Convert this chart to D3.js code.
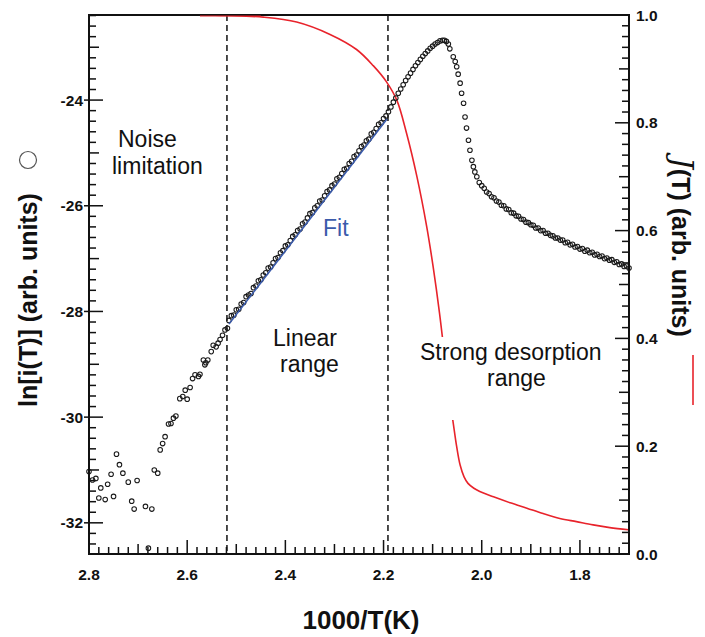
<!DOCTYPE html>
<html><head><meta charset="utf-8">
<script src="https://cdn.jsdelivr.net/npm/d3@7"></script>
<style>body{margin:0;background:#fff}svg{display:block}</style>
</head><body><svg id="c" width="705" height="637"></svg>
<script>
// ---------- data ----------
const xTickValues = [2.8, 2.6, 2.4, 2.2, 2.0, 1.8];
const xTickLabels = ["2.8", "2.6", "2.4", "2.2", "2.0", "1.8"];
const leftTickValues = [-32, -30, -28, -26, -24];
const leftTickLabels = ["-32", "-30", "-28", "-26", "-24"];
const rightTickValues = [0, 0.2, 0.4, 0.6, 0.8, 1.0];
const rightTickLabels = ["0.0", "0.2", "0.4", "0.6", "0.8", "1.0"];
const regionBounds = [2.519, 2.191];

// ln[i(T)] scatter, [1000/T, ln i]
const noisePts = [[2.800,-31.03],[2.793,-31.19],[2.786,-31.16],[2.776,-31.34],[2.780,-31.53],[2.767,-31.56],[2.762,-31.27],
 [2.755,-31.08],[2.750,-31.50],[2.744,-30.70],[2.738,-30.90],[2.731,-31.06],[2.720,-31.23],[2.713,-31.59],[2.708,-31.74],
 [2.702,-31.20],[2.685,-31.69],[2.672,-31.74],[2.679,-32.48],[2.667,-31.00],[2.660,-31.06],[2.655,-30.62],[2.650,-30.50],
 [2.645,-30.37],[2.638,-30.13],[2.633,-30.12],[2.628,-30.02],[2.623,-29.98],[2.615,-29.65],[2.609,-29.61],[2.600,-29.66],
 [2.604,-29.49],[2.594,-29.44],[2.589,-29.27],[2.584,-29.20],[2.577,-29.23],[2.574,-29.19],[2.567,-28.92],[2.562,-28.97],
 [2.558,-28.92],[2.564,-29.01],[2.551,-28.76],[2.547,-28.64],[2.541,-28.67],[2.537,-28.60],[2.533,-28.53],[2.528,-28.45],
 [2.523,-28.35],[2.518,-28.32]];
const linearPts = [[2.515,-28.17],[2.510,-28.08],[2.505,-28.07],[2.500,-27.97],[2.495,-27.96],[2.490,-27.86],[2.485,-27.83],
 [2.480,-27.72],[2.475,-27.69],[2.470,-27.66],[2.465,-27.55],[2.460,-27.52],[2.455,-27.42],[2.450,-27.40],[2.445,-27.31],
 [2.440,-27.27],[2.435,-27.18],[2.430,-27.16],[2.425,-27.08],[2.420,-27.00],[2.415,-26.98],[2.410,-26.89],[2.405,-26.85],
 [2.400,-26.76],[2.395,-26.74],[2.390,-26.66],[2.385,-26.58],[2.380,-26.55],[2.375,-26.47],[2.370,-26.44],[2.365,-26.34],
 [2.360,-26.31],[2.355,-26.23],[2.350,-26.15],[2.345,-26.13],[2.340,-26.04],[2.335,-26.00],[2.330,-25.91],[2.325,-25.89],
 [2.320,-25.81],[2.315,-25.73],[2.310,-25.70],[2.305,-25.62],[2.300,-25.59],[2.295,-25.49],[2.290,-25.46],[2.285,-25.39],
 [2.280,-25.31],[2.275,-25.29],[2.270,-25.20],[2.265,-25.16],[2.260,-25.07],[2.255,-25.04],[2.250,-24.96],[2.245,-24.88],
 [2.240,-24.85],[2.235,-24.77],[2.230,-24.74],[2.225,-24.64],[2.220,-24.61],[2.215,-24.54],[2.210,-24.46],[2.205,-24.43],
 [2.200,-24.35],[2.195,-24.30]];
const peakPts = [[2.190,-24.22],[2.185,-24.13],[2.180,-24.04],[2.175,-23.96],[2.170,-23.87],[2.165,-23.79],[2.160,-23.71],
 [2.155,-23.63],[2.150,-23.56],[2.145,-23.49],[2.140,-23.42],[2.135,-23.35],[2.130,-23.29],[2.125,-23.23],[2.120,-23.17],
 [2.115,-23.12],[2.110,-23.07],[2.105,-23.02],[2.100,-22.98],[2.095,-22.94],[2.090,-22.91],[2.085,-22.88],[2.080,-22.87],
 [2.076,-22.87],[2.072,-22.89],[2.068,-22.94],[2.065,-23.03],[2.058,-23.18],[2.054,-23.27],[2.051,-23.37],[2.048,-23.51],
 [2.044,-23.68],[2.041,-23.87],[2.037,-24.06],[2.034,-24.32],[2.031,-24.53],[2.027,-24.76],[2.024,-24.95],[2.020,-25.14],
 [2.017,-25.26],[2.014,-25.36],[2.010,-25.45],[2.005,-25.56]];
const tailPts = [[2.000,-25.62],[1.995,-25.67],[1.990,-25.74],[1.985,-25.77],[1.980,-25.83],[1.975,-25.85],[1.970,-25.91],
 [1.965,-25.93],[1.960,-25.99],[1.955,-26.00],[1.950,-26.06],[1.945,-26.07],[1.940,-26.13],[1.935,-26.14],[1.930,-26.19],
 [1.925,-26.20],[1.920,-26.25],[1.915,-26.26],[1.910,-26.31],[1.905,-26.32],[1.900,-26.36],[1.895,-26.37],[1.890,-26.42],
 [1.885,-26.42],[1.880,-26.47],[1.875,-26.47],[1.870,-26.52],[1.865,-26.52],[1.860,-26.56],[1.855,-26.57],[1.850,-26.61],
 [1.845,-26.61],[1.840,-26.65],[1.835,-26.65],[1.830,-26.70],[1.825,-26.69],[1.820,-26.74],[1.815,-26.73],[1.810,-26.78],
 [1.805,-26.77],[1.800,-26.82],[1.795,-26.81],[1.790,-26.86],[1.785,-26.84],[1.780,-26.89],[1.775,-26.88],[1.770,-26.93],
 [1.765,-26.92],[1.760,-26.96],[1.755,-26.95],[1.750,-27.00],[1.745,-26.99],[1.740,-27.03],[1.735,-27.02],[1.730,-27.07],
 [1.725,-27.06],[1.720,-27.11],[1.715,-27.10],[1.710,-27.15],[1.705,-27.14],[1.700,-27.18]];
// linear fit
const fitInvT = [2.515, 2.193];
const fitLnI = [-28.24, -24.36];
// J(T) curve, right axis
const jInvT = [2.574,2.52,2.445,2.377,2.309,2.255,2.221,2.194,2.173,2.153,2.132,2.112,2.099,2.086,2.076,2.066,2.059,2.051,
 2.044,2.036,2.028,2.016,2.004,1.976,1.942,1.908,1.875,1.841,1.807,1.773,1.739,1.701];
const jVal = [1.000,0.999,0.996,0.987,0.964,0.936,0.906,0.876,0.842,0.780,0.700,0.607,0.533,0.447,0.370,0.290,0.249,0.199,
 0.165,0.143,0.131,0.122,0.116,0.106,0.095,0.085,0.075,0.066,0.060,0.054,0.049,0.045];

// ---------- layout ----------
const L = 89, R = 629, T = 15, B = 554;
const svg = d3.select("#c");
const x = d3.scaleLinear().domain([2.8, 1.7]).range([L, R]);
const yL = d3.scaleLinear().domain([-32.59, -22.39]).range([B, T]);
const yR = d3.scaleLinear().domain([0, 1]).range([B, T]);
const FONT = "'Liberation Sans', Arial, Helvetica, sans-serif";

// ---------- axis ticks first (positioned by the scales, pointing inward) ----------
const xMinor = d3.range(0, 56).map(i => 2.8 - i * 0.02);
const lMinor = d3.range(0, 51).map(i => -32.4 + i * 0.2);
const rMinor = d3.range(0, 51).map(i => i * 0.02);
function tickLen(v, step) {
  const n = Math.abs(Math.round(v / step));
  return n % 10 === 0 ? 14 : (n % 5 === 0 ? 10 : 7);
}
const tickG = svg.append("g").attr("class", "ticks");
xMinor.forEach(v => {
  const k = tickLen(v, 0.02);
  tickG.append("rect").attr("x", x(v) - 0.75).attr("y", B - k).attr("width", 1.5).attr("height", k).attr("fill", "#111");
});
lMinor.forEach(v => {
  const k = tickLen(v, 0.2);
  const x0 = k === 14 ? L - 5 : L;
  tickG.append("rect").attr("x", x0).attr("y", yL(v) - 0.75).attr("width", L + k - x0).attr("height", 1.5).attr("fill", "#111");
});
rMinor.forEach(v => {
  const k = tickLen(v, 0.02);
  tickG.append("rect").attr("x", R - k).attr("y", yR(v) - 0.75).attr("width", k).attr("height", 1.5).attr("fill", "#111");
});

// dashed region lines
svg.selectAll("line.dash").data(regionBounds).join("line").attr("class", "dash")
  .attr("x1", d => x(d)).attr("x2", d => x(d)).attr("y1", T).attr("y2", B)
  .attr("stroke", "#111").attr("stroke-width", 1.5).attr("stroke-dasharray", "6,4");

// J(T) red curve
const jLine = d3.line().x(d => x(d[0])).y(d => yR(d[1])).curve(d3.curveCatmullRom.alpha(0.5));
svg.append("path").datum(jInvT.map((v, i) => [v, jVal[i]]))
  .attr("d", jLine).attr("fill", "none").attr("stroke", "#e8232b").attr("stroke-width", 1.6);

// white box behind the "Strong desorption range" label
svg.append("rect").attr("x", 414).attr("y", 337).attr("width", 198).attr("height", 83).attr("fill", "#fff");

// scatter
const allPts = noisePts.concat(linearPts, peakPts, tailPts);
svg.append("g").selectAll("circle").data(allPts).join("circle")
  .attr("cx", d => x(d[0])).attr("cy", d => yL(d[1])).attr("r", 2.3)
  .attr("fill", "none").attr("stroke", "#1a1a1a").attr("stroke-width", 1.05);

// fit line
svg.append("line")
  .attr("x1", x(fitInvT[0])).attr("y1", yL(fitLnI[0]))
  .attr("x2", x(fitInvT[1])).attr("y2", yL(fitLnI[1]))
  .attr("stroke", "#3b5bab").attr("stroke-width", 1.6);

// frame
svg.append("rect").attr("x", L).attr("y", T).attr("width", R - L).attr("height", B - T)
  .attr("fill", "none").attr("stroke", "#111").attr("stroke-width", 2);
svg.append("line").attr("x1", x(jInvT[0])).attr("x2", x(2.45)).attr("y1", T + 1).attr("y2", T + 1)
  .attr("stroke", "#e8232b").attr("stroke-width", 1.2);

// tick labels
svg.append("g").selectAll("text").data(xTickValues).join("text")
  .attr("x", d => x(d)).attr("y", 580).attr("text-anchor", "middle")
  .attr("font-family", FONT).attr("font-weight", "bold").attr("font-size", 15.5).attr("fill", "#111")
  .text((d, i) => xTickLabels[i]);
svg.append("g").selectAll("text").data(leftTickValues).join("text")
  .attr("x", 83).attr("y", d => yL(d) + 5.5).attr("text-anchor", "end")
  .attr("font-family", FONT).attr("font-weight", "bold").attr("font-size", 15.5).attr("fill", "#111")
  .text((d, i) => leftTickLabels[i]);
svg.append("g").selectAll("text").data(rightTickValues).join("text")
  .attr("x", 636).attr("y", d => yR(d) + 5.5).attr("text-anchor", "start")
  .attr("font-family", FONT).attr("font-weight", "bold").attr("font-size", 15.5).attr("fill", "#111")
  .text((d, i) => rightTickLabels[i]);

// axis titles
svg.append("text").attr("x", 361).attr("y", 629).attr("text-anchor", "middle")
  .attr("font-family", FONT).attr("font-weight", "bold").attr("font-size", 26).attr("fill", "#111")
  .text("1000/T(K)");
svg.append("text").attr("transform", "translate(37,300) rotate(-90)").attr("text-anchor", "middle")
  .attr("font-family", FONT).attr("font-weight", "bold").attr("font-size", 25).attr("fill", "#111")
  .text("ln[i(T)] (arb. units)");
svg.append("circle").attr("cx", 28).attr("cy", 160).attr("r", 8.5)
  .attr("fill", "none").attr("stroke", "#555").attr("stroke-width", 1.2);
const rt = svg.append("text").attr("transform", "translate(672,247) rotate(90)").attr("text-anchor", "middle")
  .attr("font-family", FONT).attr("font-weight", "bold").attr("font-size", 25).attr("fill", "#111");
rt.append("tspan").attr("font-family", "'DejaVu Serif', 'Liberation Serif', serif").attr("font-style", "italic")
  .attr("font-weight", "normal").attr("font-size", 29).text("J");
rt.append("tspan").text("(T) (arb. units)");
svg.append("line").attr("x1", 693).attr("x2", 693).attr("y1", 355).attr("y2", 405)
  .attr("stroke", "#e8232b").attr("stroke-width", 1.6);

// region labels (left-aligned lines)
function label(lines, xs, ys, color) {
  const t = svg.append("text").attr("font-family", FONT).attr("font-size", 23).attr("fill", color);
  lines.forEach((s, i) => t.append("tspan").attr("x", xs[i]).attr("y", ys[i]).text(s));
}
label(["Noise", "limitation"], [118, 112], [147, 174], "#111");
label(["Linear", "range"], [273, 280], [346, 372], "#111");
label(["Strong desorption", "range"], [420, 487], [360, 386], "#111");
label(["Fit"], [323], [236], "#3b5bab");
</script>
</body></html>
